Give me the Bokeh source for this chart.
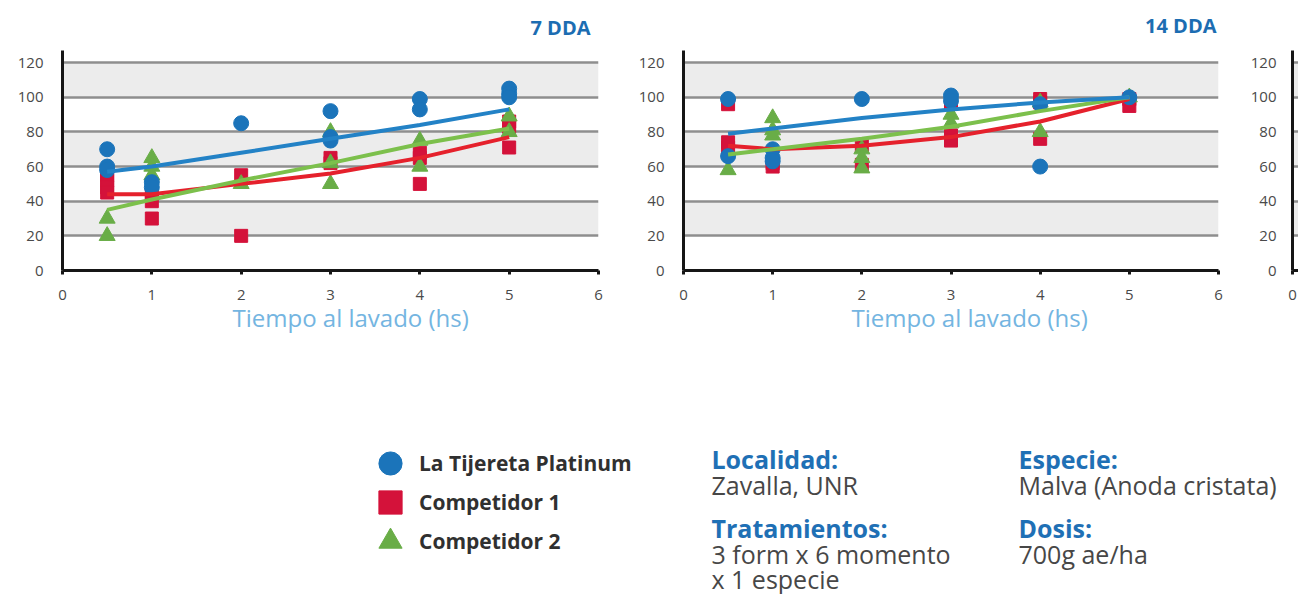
from bokeh.plotting import figure
from bokeh.models import Range1d, FixedTicker, Title, Legend, LegendItem, Label
from bokeh.layouts import column, row
from bokeh.embed import file_html
from bokeh.resources import INLINE

# ---------------- data ----------------
X_TICKS = [0, 1, 2, 3, 4, 5, 6]
Y_TICKS = [0, 20, 40, 60, 80, 100, 120]
TREND_X = [0.5, 1, 2, 3, 4, 5]

SERIES_NAMES = ["La Tijereta Platinum", "Competidor 1", "Competidor 2"]
PANEL_TITLES = ["7 DDA", "14 DDA"]
X_LABEL = "Tiempo al lavado (hs)"

# 7 DDA
d7_blue_x = [0.5, 0.5, 0.5, 1, 1, 2, 3, 3, 3, 4, 4, 5, 5, 5]
d7_blue_y = [70, 60, 58, 51, 48, 85, 92, 77, 75, 99, 93, 105, 102, 100]
d7_red_x = [0.5, 0.5, 0.5, 0.5, 1, 1, 1, 2, 2, 3, 3, 4, 4, 4, 5, 5, 5]
d7_red_y = [55, 52, 48, 45, 45, 40, 30, 55, 20, 65, 62, 68, 65, 50, 86, 83, 71]
d7_green_x = [0.5, 0.5, 1, 1, 1, 2, 3, 3, 3, 4, 4, 5, 5]
d7_green_y = [30, 20, 65, 60, 55, 50, 80, 62, 50, 75, 60, 89, 80]
d7_blue_trend = [57, 60, 68, 76, 84, 93]
d7_red_trend = [44, 44, 50, 56, 65, 77]
d7_green_trend = [35, 41, 52, 62, 73, 82]

# 14 DDA
d14_blue_x = [0.5, 0.5, 1, 1, 1, 2, 3, 3, 4, 4, 5]
d14_blue_y = [99, 66, 70, 65, 63, 99, 101, 98, 96, 60, 100]
d14_red_x = [0.5, 0.5, 0.5, 1, 1, 2, 2, 3, 3, 3, 4, 4, 4, 5, 5]
d14_red_y = [96, 74, 71, 62, 60, 72, 61, 97, 78, 75, 99, 97, 76, 99, 95]
d14_green_x = [0.5, 1, 1, 1, 2, 2, 2, 3, 3, 4, 4, 5]
d14_green_y = [58, 88, 81, 78, 70, 65, 59, 90, 85, 97, 80, 100]
d14_blue_trend = [79, 82, 88, 93, 97, 100]
d14_red_trend = [72, 70, 72, 77, 86, 99]
d14_green_trend = [67, 70, 76, 83, 92, 100]

INFO_LEFT = ["Localidad:", "Zavalla, UNR", "Tratamientos:", "3 form x 6 momento", "x 1 especie"]
INFO_RIGHT = ["Especie:", "Malva (Anoda cristata)", "Dosis:", "700g ae/ha"]

# ---------------- style ----------------
FONT = "Open Sans"
BLUE = "#1b74ba"
RED = "#d4123a"
GREEN = "#69ad47"
BLUE_L = "#2382c6"
RED_L = "#e5212c"
GREEN_L = "#7cc04c"
TITLE_BLUE = "#1c6db2"
HEAD_BLUE = "#1f70b5"
H_TOP = 340
H_BOTTOM = 254


def style_panel(p, ylab_standoff):
    p.outline_line_color = None
    p.xgrid.visible = False
    p.ygrid.ticker = FixedTicker(ticks=Y_TICKS)
    p.ygrid.grid_line_color = "#8e8e8e"
    p.ygrid.grid_line_width = 2.5
    p.ygrid.band_fill_color = "#ececec"
    p.ygrid.band_fill_alpha = 1.0
    for ax in p.axis:
        ax.axis_line_width = 3
        ax.axis_line_color = "#161616"
        ax.major_label_text_font = FONT
        ax.major_label_text_font_size = "15px"
        ax.major_label_text_color = "#4a4a4a"
        ax.minor_tick_line_color = None
    p.yaxis.ticker = FixedTicker(ticks=Y_TICKS)
    p.yaxis.major_tick_line_color = None
    p.yaxis.major_label_standoff = ylab_standoff
    p.xaxis.major_tick_out = 4
    p.xaxis.major_tick_in = 0
    p.xaxis.major_tick_line_width = 3
    p.xaxis.major_tick_line_color = "#161616"
    p.xaxis.major_label_standoff = 15


def make_panel(title, width, bl, br, bt, bb, xmax, xticks, data, label_offset,
               title_standoff=16, title_offset=0, ylab_standoff=13):
    p = figure(width=width, height=H_TOP, x_range=Range1d(0, xmax), y_range=Range1d(0, 127),
               min_border_left=bl, min_border_right=br, min_border_top=bt, min_border_bottom=bb,
               toolbar_location=None, output_backend="svg")
    style_panel(p, ylab_standoff)
    p.xaxis.ticker = FixedTicker(ticks=xticks)
    if title:
        p.title.text = title
        p.title.align = "right"
        p.title.vertical_align = "top"
        p.title.offset = title_offset
        p.title.text_font = FONT
        p.title.text_font_size = "20px"
        p.title.text_font_style = "bold"
        p.title.text_color = TITLE_BLUE
        p.title.text_line_height = 1.0
        p.title.standoff = title_standoff
    if data is not None:
        (bx, by, rx, ry, gx, gy, bt_, rt_, gt_) = data
        p.scatter(rx, ry, marker="square", size=13, color=RED)
        p.scatter(gx, gy, marker="triangle", size=16, color=GREEN)
        p.scatter(bx, by, marker="circle", size=15, color=BLUE)
        p.line(TREND_X, rt_, line_color=RED_L, line_width=4)
        p.line(TREND_X, gt_, line_color=GREEN_L, line_width=4)
        p.line(TREND_X, bt_, line_color=BLUE_L, line_width=4)
    if label_offset is not None:
        t = Title(text=X_LABEL, align="left", offset=label_offset, text_font=FONT,
                  text_font_size="24px", text_font_style="normal", text_color="#74b5e1",
                  standoff=-8)
        p.add_layout(t, "below")
    return p


p1 = make_panel(PANEL_TITLES[0], 620, 62, 22, 46, 70, 6, X_TICKS,
                (d7_blue_x, d7_blue_y, d7_red_x, d7_red_y, d7_green_x, d7_green_y,
                 d7_blue_trend, d7_red_trend, d7_green_trend), 170,
                title_standoff=16, title_offset=8)
p2 = make_panel(PANEL_TITLES[1], 620, 63, 22, 49, 67, 6, X_TICKS,
                (d14_blue_x, d14_blue_y, d14_red_x, d14_red_y, d14_green_x, d14_green_y,
                 d14_blue_trend, d14_red_trend, d14_green_trend), 168,
                title_standoff=20, title_offset=2)
p3 = make_panel(None, 58, 52, 0, 50, 66, 6 / 89.3, [0], None, None, ylab_standoff=10)

# ---------------- bottom: legend + info ----------------
p4 = figure(width=1298, height=H_BOTTOM, x_range=Range1d(100, 101), y_range=Range1d(1000, 1001),
            x_axis_type=None, y_axis_type=None, min_border=0,
            toolbar_location=None, output_backend="svg")
p4.outline_line_color = None
r_blue = p4.scatter(d7_blue_x, d7_blue_y, marker="circle", size=15, color=BLUE)
r_red = p4.scatter(d7_red_x, d7_red_y, marker="square", size=13, color=RED)
r_green = p4.scatter(d7_green_x, d7_green_y, marker="triangle", size=16, color=GREEN)

GLYPH = 58
for i, (name, r) in enumerate(zip(SERIES_NAMES, [r_blue, r_red, r_green])):
    center = 463 + 39 * i - H_TOP
    lg = Legend(items=[LegendItem(label=name, renderers=[r])],
                location=(390 - GLYPH // 2, H_BOTTOM - (center + GLYPH // 2)),
                glyph_width=GLYPH, glyph_height=GLYPH, label_standoff=0, padding=0, margin=0,
                border_line_color=None, background_fill_alpha=0,
                label_text_font=FONT, label_text_font_size="21px",
                label_text_font_style="bold", label_text_color="#303030",
                label_text_baseline="middle")
    p4.add_layout(lg, "center")

left_base = [458, 484, 527, 553, 578]
right_base = [458, 484, 527, 553]
for texts, x0, bases in [(INFO_LEFT, 711, left_base), (INFO_RIGHT, 1018, right_base)]:
    for txt, b in zip(texts, bases):
        heading = txt.endswith(":")
        p4.add_layout(Label(x=x0, y=H_TOP + H_BOTTOM - b, x_units="screen", y_units="screen",
                            text=txt, text_baseline="alphabetic", text_align="left",
                            text_font=FONT, text_font_size="25px",
                            text_font_style="bold" if heading else "normal",
                            text_color=HEAD_BLUE if heading else "#474747"))

layout = column(row(p1, p2, p3, spacing=0), p4, spacing=0)
open("out.html", "w").write(file_html(layout, INLINE))
